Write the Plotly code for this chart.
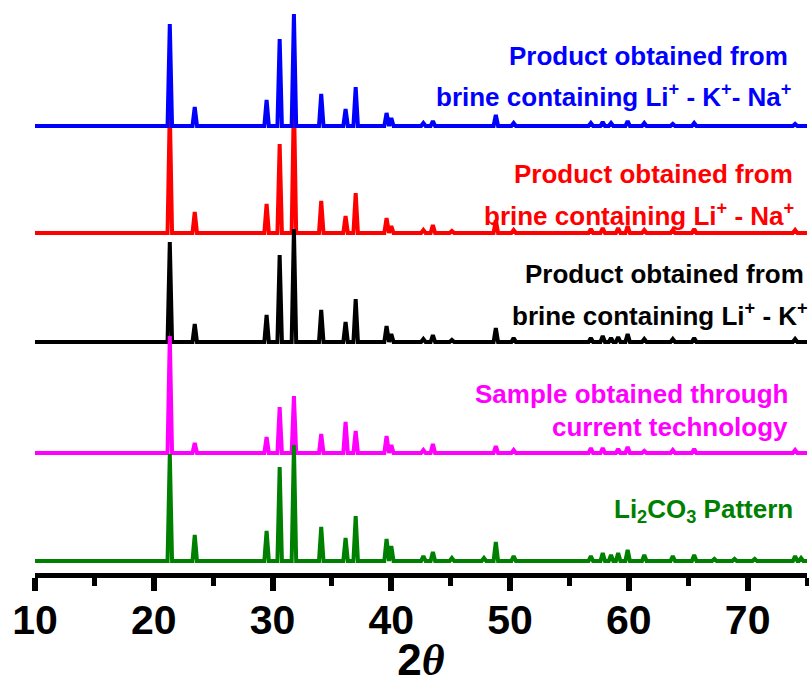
import plotly.graph_objects as go

# 2-theta range of the scans
two_theta_min, two_theta_max = 10, 75
tick_labels = [10, 20, 30, 40, 50, 60, 70]

# Reflection positions (degrees 2θ) shared by all patterns
peak_pos = [21.35, 23.45, 29.5, 30.6, 31.8, 34.1, 36.15, 37.0, 39.6, 40.0,
            42.7, 43.5, 45.1, 47.8, 48.8, 50.3, 56.8, 57.8, 58.5, 59.1,
            59.9, 61.3, 63.7, 65.5, 67.2, 68.9, 70.6, 74.0, 74.5]

# Peak intensities (a.u.) for each pattern, in the order of peak_pos
li2co3_pattern = [107, 26, 30, 94, 116, 34, 23, 45, 22, 15,
                  5, 9, 3, 3, 19, 5, 5, 8, 6, 8,
                  11, 6, 5, 6, 2, 2, 2, 5, 3]
current_tech = [117, 10, 16, 46, 57, 19, 31, 22, 17, 8,
                3, 9, 0, 0, 7, 3, 5, 5, 0, 4,
                6, 2, 3, 4, 0, 0, 0, 3, 0]
brine_li_k = [100, 18, 27, 87, 113, 32, 20, 43, 16, 8,
              3, 7, 2, 0, 14, 4, 4, 6, 4, 5,
              8, 3, 3, 4, 0, 0, 0, 3, 0]
brine_li_na = [125, 21, 29, 89, 135, 32, 17, 40, 15, 7,
               3, 8, 2, 0, 13, 3, 4, 5, 0, 5,
               7, 3, 3, 4, 0, 0, 0, 3, 0]
brine_li_k_na = [102, 19, 26, 87, 112, 32, 17, 39, 13, 8,
                 3, 5, 0, 0, 11, 3, 3, 4, 3, 0,
                 5, 3, 2, 3, 0, 0, 0, 2, 0]

# Vertical offsets used to stack the patterns
offsets = {"li2co3": 12, "current": 120, "li_k": 231, "li_na": 340, "li_k_na": 447}

HALF_WIDTH = 0.19


def pattern(heights, base):
    xs, ys = [two_theta_min], [base]
    for pos, h in zip(peak_pos, heights):
        if h <= 0:
            continue
        xs += [pos - HALF_WIDTH, pos, pos + HALF_WIDTH]
        ys += [base, base + h, base]
    xs.append(two_theta_max)
    ys.append(base)
    return xs, ys


series = [
    ("li_na", brine_li_na, "#FF0000"),
    ("li_k_na", brine_li_k_na, "#0000FF"),
    ("li_k", brine_li_k, "#000000"),
    ("current", current_tech, "#FF00FF"),
    ("li2co3", li2co3_pattern, "#008000"),
]

fig = go.Figure()
for key, heights, color in series:
    xs, ys = pattern(heights, offsets[key])
    fig.add_trace(go.Scatter(x=xs, y=ys, mode="lines",
                             line=dict(color=color, width=4),
                             hoverinfo="skip", showlegend=False))

FONT = "Liberation Sans, Arial, sans-serif"


def label(text, color, x_right, y_mid):
    fig.add_annotation(text=f"<b>{text}</b>", xref="paper", yref="y",
                       x=x_right, y=y_mid, xanchor="right", yanchor="middle",
                       showarrow=False,
                       font=dict(family=FONT, size=26, color=color))


label("Product obtained from", "#0000FF", 0.978, 517)
label("brine containing Li<sup>+</sup> - K<sup>+</sup>- Na<sup>+</sup>", "#0000FF", 0.982, 478)
label("Product obtained from", "#FF0000", 0.9845, 399)
label("brine containing Li<sup>+</sup> - Na<sup>+</sup>", "#FF0000", 0.986, 359)
label("Product obtained from", "#000000", 0.9987, 299)
label("brine containing Li<sup>+</sup> - K<sup>+</sup>", "#000000", 1.004, 259)
label("Sample obtained through", "#FF00FF", 0.978, 179)
label("current technology", "#FF00FF", 0.978, 146)
label("Li<sub>2</sub>CO<sub>3</sub> Pattern", "#008000", 0.9845, 63)

fig.update_layout(
    width=809, height=685,
    margin=dict(l=35, r=2, t=0, b=112),
    paper_bgcolor="white", plot_bgcolor="white",
    xaxis=dict(
        range=[two_theta_min, two_theta_max],
        tickvals=tick_labels,
        showgrid=False, zeroline=False,
        showline=True, linecolor="black", linewidth=5,
        ticks="outside", ticklen=13, tickwidth=6, tickcolor="black",
        ticklabelstandoff=-6,
        tickfont=dict(family=FONT, size=41, color="black", weight="bold"),
        minor=dict(dtick=5, ticks="outside", ticklen=8, tickwidth=5,
                   tickcolor="black", showgrid=False),
        title=dict(text="<b>2</b><b><i><span style='font-family:Liberation Serif'>θ</span></i></b>",
                   font=dict(family=FONT, size=44, color="black"),
                   standoff=10),
    ),
    yaxis=dict(visible=False, range=[0, 573]),
)

fig.write_html("out.html")
